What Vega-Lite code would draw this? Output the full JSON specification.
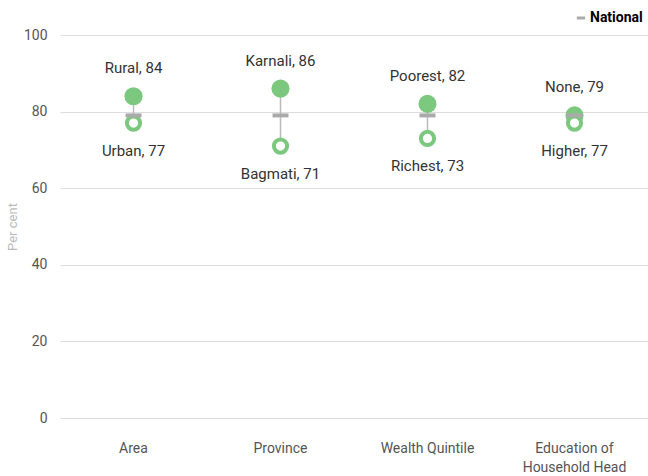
{
  "$schema": "https://vega.github.io/schema/vega-lite/v6.json",
  "width": 588,
  "height": 383,
  "autosize": {"type": "none"},
  "padding": {"left": 60, "top": 35, "right": 0, "bottom": 58},
  "background": "white",
  "config": {
    "view": {"stroke": null},
    "font": "Roboto",
    "axis": {"labelFont": "Roboto", "titleFont": "Roboto"}
  },
  "data": {
    "values": [
      {"cat": "Area", "national": 79, "hiName": "Rural", "hi": 84, "loName": "Urban", "lo": 77},
      {"cat": "Province", "national": 79, "hiName": "Karnali", "hi": 86, "loName": "Bagmati", "lo": 71},
      {"cat": "Wealth Quintile", "national": 79, "hiName": "Poorest", "hi": 82, "loName": "Richest", "lo": 73},
      {"cat": "Education of Household Head", "national": 79, "hiName": "None", "hi": 79, "loName": "Higher", "lo": 77}
    ]
  },
  "encoding": {
    "x": {
      "field": "cat",
      "type": "nominal",
      "sort": null,
      "scale": {"paddingInner": 0, "paddingOuter": 0},
      "axis": {
        "title": null,
        "domain": false,
        "ticks": false,
        "labelAngle": 0,
        "labelFontSize": 14,
        "labelColor": "#555",
        "labelPadding": 23,
        "labelLineHeight": 19,
        "labelExpr": "datum.value == 'Education of Household Head' ? ['Education of', 'Household Head'] : datum.value"
      }
    }
  },
  "layer": [
    {
      "mark": {"type": "rule", "color": "#bbbbbb", "strokeWidth": 1.5},
      "encoding": {
        "y": {
          "field": "lo",
          "type": "quantitative",
          "scale": {"domain": [0, 100]},
          "axis": {
            "title": "Per cent",
            "titleColor": "#bbbbbb",
            "titleFontSize": 13,
            "titleFontWeight": "normal",
            "titlePadding": 4,
            "values": [0, 20, 40, 60, 80, 100],
            "domain": false,
            "ticks": false,
            "labelFontSize": 14,
            "labelColor": "#555",
            "labelPadding": 13,
            "gridColor": "#dddddd",
            "gridWidth": 1
          }
        },
        "y2": {"field": "hi"}
      }
    },
    {
      "mark": {"type": "point", "filled": true, "size": 330, "opacity": 1, "color": "#7dc87f"},
      "encoding": {"y": {"field": "hi", "type": "quantitative"}}
    },
    {
      "mark": {"type": "point", "filled": false, "size": 175, "strokeWidth": 4, "fill": "white", "fillOpacity": 1, "opacity": 1, "color": "#7dc87f"},
      "encoding": {"y": {"field": "lo", "type": "quantitative"}}
    },
    {
      "mark": {"type": "tick", "thickness": 4, "size": 16, "opacity": 1},
      "encoding": {
        "y": {"field": "national", "type": "quantitative"},
        "color": {
          "datum": "National",
          "scale": {"range": ["#aaaaaa"]},
          "legend": {
            "title": null,
            "orient": "none",
            "legendX": 514,
            "legendY": -24,
            "symbolType": "stroke",
            "symbolStrokeWidth": 3,
            "symbolSize": 70,
            "symbolStrokeColor": "#aaaaaa",
            "labelFontSize": 14,
            "labelFontWeight": "bold",
            "labelColor": "black",
            "labelOffset": 2
          }
        }
      }
    },
    {
      "mark": {"type": "text", "dy": -28, "fontSize": 15, "color": "#333333"},
      "encoding": {
        "y": {"field": "hi", "type": "quantitative"},
        "text": {"field": "hiLabel"}
      },
      "transform": [{"calculate": "datum.hiName + ', ' + datum.hi", "as": "hiLabel"}]
    },
    {
      "mark": {"type": "text", "dy": 28, "fontSize": 15, "color": "#333333"},
      "encoding": {
        "y": {"field": "lo", "type": "quantitative"},
        "text": {"field": "loLabel"}
      },
      "transform": [{"calculate": "datum.loName + ', ' + datum.lo", "as": "loLabel"}]
    }
  ]
}
